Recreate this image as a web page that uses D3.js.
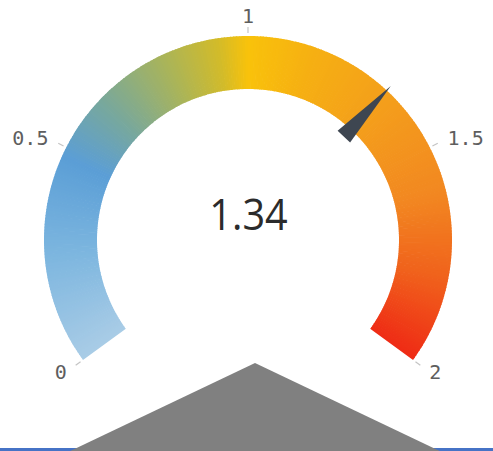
<!DOCTYPE html>
<html><head><meta charset="utf-8">
<script src="https://cdn.jsdelivr.net/npm/d3@7"></script>
<style>html,body{margin:0;padding:0;background:#fff;overflow:hidden}</style>
</head><body>
<svg id="chart" width="493" height="451"></svg>
<script>
// ---- data ----
const domainMin = 0, domainMax = 2;
const tickValues = [0, 0.5, 1, 1.5, 2];
const tickLabels = ["0", "0.5", "1", "1.5", "2"];
const gaugeValue = 1.34;
const valueLabel = "1.34";
const colorStopValues = [0, 0.25, 0.48, 0.63, 0.8, 0.93, 1.0, 1.15, 1.35, 1.6, 1.8, 2.0];
const colorStopColors = ["#a9cce6", "#7db6df", "#5b9ed6", "#78a89c", "#a9b45a", "#d2bb2a", "#f9c20b", "#f6b012", "#f49f1b", "#f28821", "#f0621c", "#ef2b15"];

// ---- layout ----
const svg = d3.select("#chart");
const cx = 248, cy = 240, rOuter = 204, rInner = 151;
const angleDeg = d3.scaleLinear().domain([domainMin, domainMax]).range([-126, 126]);
const rad = d => d * Math.PI / 180;
const color = d3.scaleLinear().domain(colorStopValues).range(colorStopColors).interpolate(d3.interpolateRgb);

const g = svg.append("g").attr("transform", `translate(${cx},${cy})`);

// gradient band as many thin segments
const N = 300;
const segs = d3.range(N).map(i => {
  const v0 = domainMin + (domainMax - domainMin) * i / N;
  const v1 = domainMin + (domainMax - domainMin) * (i + 1) / N;
  return {v0, v1, vm: (v0 + v1) / 2};
});
const arc = d3.arc().innerRadius(rInner).outerRadius(rOuter);
g.selectAll("path.seg").data(segs).join("path")
  .attr("class", "seg")
  .attr("d", d => arc({startAngle: rad(angleDeg(d.v0)), endAngle: rad(angleDeg(d.v1)) + (d.v1 < domainMax ? 0.004 : 0)}))
  .attr("fill", d => color(d.vm));

// ticks
const pt = (v, r) => { const a = rad(angleDeg(v)); return [r * Math.sin(a), -r * Math.cos(a)]; };
g.selectAll("line.tick").data(tickValues).join("line")
  .attr("class", "tick")
  .attr("x1", d => pt(d, rOuter + 3)[0]).attr("y1", d => pt(d, rOuter + 3)[1])
  .attr("x2", d => pt(d, rOuter + 9)[0]).attr("y2", d => pt(d, rOuter + 9)[1])
  .attr("stroke", "#c4c4c4").attr("stroke-width", 1.2);

g.selectAll("text.tl").data(tickValues).join("text")
  .attr("class", "tl")
  .attr("x", d => pt(d, rOuter + 20)[0])
  .attr("y", d => pt(d, rOuter + 20)[1])
  .attr("text-anchor", d => { const a = angleDeg(d); return Math.abs(a) < 5 ? "middle" : (a < 0 ? "end" : "start"); })
  .attr("dy", "0.35em")
  .attr("font-family", "DejaVu Sans Mono, monospace")
  .attr("font-size", 20)
  .attr("fill", "#5e5e5e")
  .text((d, i) => tickLabels[i]);

// needle
const needleTipR = 210, needleBaseR = 141, needleHalfW = 8.5;
const na = rad(angleDeg(gaugeValue));
const ux = Math.sin(na), uy = -Math.cos(na), px = Math.cos(na), py = Math.sin(na);
const needlePts = [
  [ux * needleTipR, uy * needleTipR],
  [ux * needleBaseR + px * needleHalfW, uy * needleBaseR + py * needleHalfW],
  [ux * needleBaseR - px * needleHalfW, uy * needleBaseR - py * needleHalfW]
];
g.append("path").attr("d", d3.line()(needlePts) + "Z").attr("fill", "#3e4651");

// value label
svg.append("text")
  .attr("transform", `translate(${cx + 0.5},230) scale(0.9,1)`)
  .attr("text-anchor", "middle")
  .attr("font-family", "Open Sans, sans-serif")
  .attr("font-size", 44)
  .attr("fill", "#2b2b2b")
  .text(valueLabel);

// bottom decoration: blue rule and grey triangle
svg.append("rect").attr("x", 0).attr("y", 448).attr("width", 493).attr("height", 3).attr("fill", "#4673c6");
svg.append("path").attr("d", d3.line()([[255, 363], [64, 454], [446, 454]]) + "Z").attr("fill", "#808080");
</script>
</body></html>
